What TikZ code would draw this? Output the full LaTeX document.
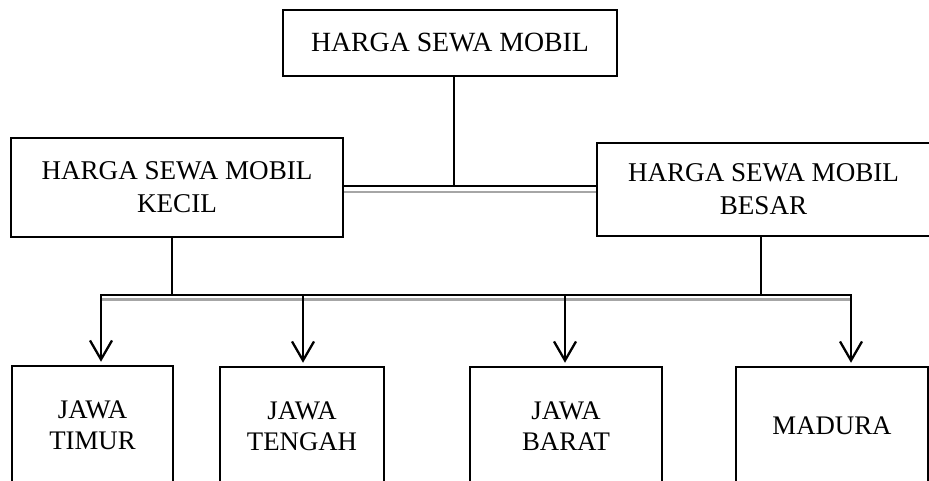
\documentclass[tikz,border=0pt]{standalone}
\usepackage{fontspec}
\setmainfont{Liberation Serif}
\usetikzlibrary{arrows.meta}
\begin{document}
\begin{tikzpicture}[x=1pt,y=-1pt,
  box/.style={draw, line width=2.5pt, inner sep=0pt, align=center, font=\fontsize{27.1}{33}\selectfont},
  lowbox/.style={box, minimum height=118pt, font=\fontsize{26.8}{31}\selectfont},
  conn/.style={line width=2.5pt, line cap=rect},
  shade/.style={line width=2.5pt, draw=black!35},
  arr/.style={line width=2.5pt, shorten >=3pt, -{Straight Barb[length=19pt,width=22pt,line width=2.3pt]}}]
\useasboundingbox (0,0) rectangle (929,481);
\clip (0,0) rectangle (929,481);
% boxes
\node[box, minimum width=334pt, minimum height=66pt, font=\fontsize{27.8}{33}\selectfont] (top) at (450,43) {HARGA SEWA MOBIL};
\node[box, minimum width=332pt, minimum height=99pt] (kecil) at (177,187.5) {HARGA SEWA MOBIL\\KECIL};
\node[box, minimum width=333pt, minimum height=93pt] (besar) at (763.5,189.5) {HARGA SEWA MOBIL\\BESAR};
\node[lowbox, minimum width=161pt] (timur) at (92.5,425) {JAWA\\TIMUR};
\node[lowbox, minimum width=164pt] (tengah) at (302,426) {JAWA\\TENGAH};
\node[lowbox, minimum width=192pt] (barat) at (566,426) {JAWA\\BARAT};
\node[lowbox, minimum width=192pt] (madura) at (832,426) {MADURA};
% junction coordinates
\coordinate (j1) at (454,186);
\coordinate (j1g) at (454,192);
\coordinate (a1) at (101,295);
\coordinate (a2) at (303,295);
\coordinate (a3) at (565,295);
\coordinate (a4) at (851,295);
\coordinate (b1) at (172,295);
\coordinate (b2) at (761,295);
% top connector and double line
\draw[conn] (top.south -| j1) -- (j1);
\draw[shade] (kecil.east |- j1g) -- (besar.west |- j1g);
\draw[conn] (kecil.east |- j1) -- (besar.west |- j1);
% verticals to bus
\draw[conn] (kecil.south -| b1) -- (b1);
\draw[conn] (besar.south -| b2) -- (b2);
% bus
\draw[shade] ([yshift=-4.5pt]a1) -- ([yshift=-4.5pt]a4);
\draw[conn] (a1) -- (a4);
% arrows
\draw[arr] (a1) -- (a1 |- timur.north);
\draw[arr] (a2) -- (a2 |- tengah.north);
\draw[arr] (a3) -- (a3 |- barat.north);
\draw[arr] (a4) -- (a4 |- madura.north);
\end{tikzpicture}
\end{document}
